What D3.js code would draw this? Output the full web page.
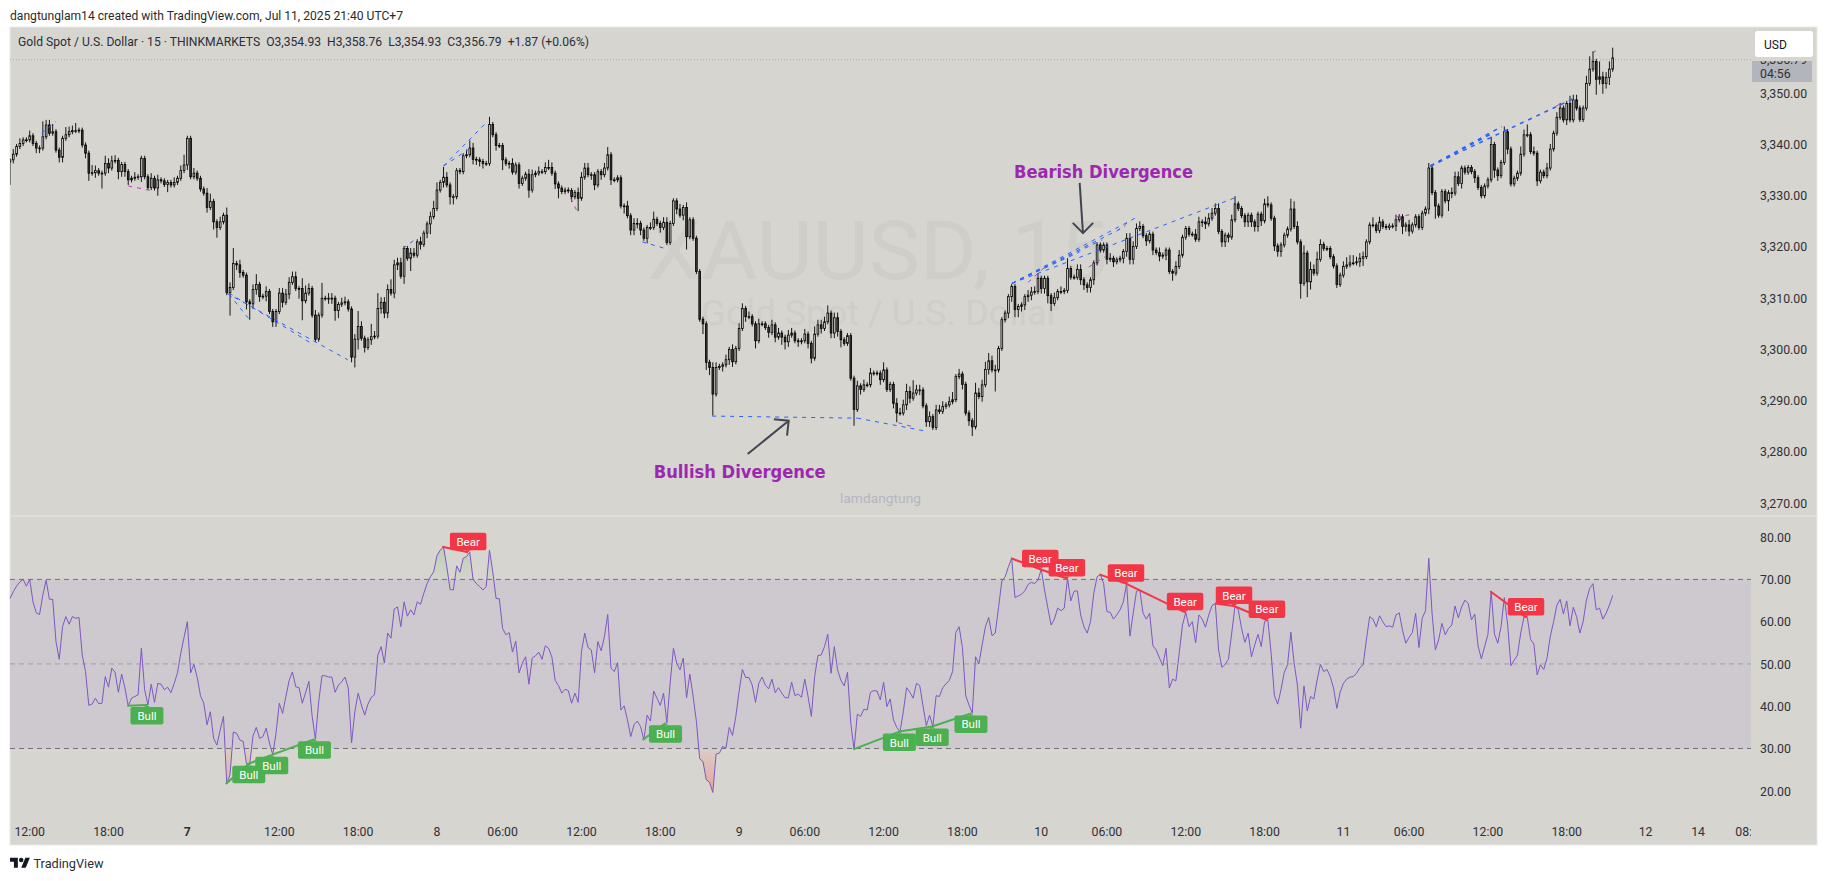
<!DOCTYPE html>
<html><head><meta charset="utf-8">
<script src="https://cdn.jsdelivr.net/npm/d3@7"></script>
<style>html,body{margin:0;background:#fff}svg{display:block}text{font-family:Roboto,sans-serif}</style>
</head><body><svg id="c" width="1827" height="881"></svg>
<script>
const closes=[3336.9,3338,3339.5,3340.1,3340.8,3340.8,3341.6,3340.1,3339.2,3339.2,
3341.4,3343.7,3342.1,3342.4,3338.8,3337.4,3341.1,3341.8,3342.4,3342.6,
3342.6,3342.7,3339.8,3338.2,3334.3,3334.4,3334.8,3334.3,3334.3,3336.2,
3335.3,3336.7,3336.8,3334.6,3336,3334.6,3333,3333.3,3333.5,3333.6,
3337.2,3333.6,3331.5,3333.3,3331.4,3333,3332.8,3332.1,3332.5,3332,
3332.5,3333.3,3334.8,3335.9,3341.1,3333.6,3334.3,3333.3,3331.2,3330.4,
3327.6,3328.8,3324.8,3323.7,3324.8,3326.1,3311,3312,3316.7,3316.4,
3314.9,3314.4,3309.2,3308.8,3311.6,3312.6,3310.2,3310.3,3311.2,3307.3,
3305.3,3307.3,3310.9,3309.1,3310.7,3313,3314.1,3311.8,3311.8,3309.4,
3310.9,3311.8,3306.6,3301.9,3306.6,3309.9,3309.9,3309.8,3309.9,3307.5,
3308.7,3309,3309.2,3307.8,3298.4,3301.9,3304.4,3302.1,3300.3,3301.8,
3302.4,3302.5,3307.9,3309.1,3307,3311.6,3310.9,3316.4,3316.8,3314.2,
3319.6,3317.7,3318.7,3318.3,3320.9,3320.4,3322.6,3324.4,3325.8,3327.4,
3331,3332.5,3333.5,3332,3329.7,3329.7,3334.8,3334.6,3337.7,3337.9,
3339.2,3337,3336.9,3336.6,3336.2,3336.2,3343.8,3341.8,3339.7,3339.7,
3336.9,3336.2,3336.2,3334.5,3335.9,3332.3,3333.3,3334.1,3331,3334,
3334.3,3334.6,3334.6,3335.4,3335.4,3334.3,3332.2,3331.4,3330.7,3331,
3330.9,3329.7,3330.5,3329.4,3333.5,3335.3,3334,3334,3332,3334.6,
3334,3335.3,3337.9,3333,3333,3333.4,3327.9,3327.9,3326,3323.2,
3324.5,3324.5,3323.2,3321.6,3323.7,3323.7,3325.3,3324.5,3323.7,3324.7,
3320.8,3324.5,3328.9,3327.3,3326.1,3327.6,3321.9,3325.2,3321.6,3315.1,
3305.8,3304.9,3297.4,3296.4,3291.2,3296.4,3296.6,3296.9,3297.9,3299.9,
3297.5,3300.1,3304,3307.9,3306.3,3306.3,3304.9,3301.6,3304.9,3304.9,
3304.2,3303.2,3304.7,3302.3,3303.1,3302.3,3301.4,3302.7,3303.1,3301.6,
3301.4,3301.6,3302.9,3301.1,3298.2,3302.9,3304.7,3304,3305.3,3307,
3303.1,3306.1,3303.4,3301.8,3301.1,3302.6,3294.3,3288.2,3292.8,3292.1,
3293,3293,3295.3,3295.3,3295.3,3294,3295.9,3292.1,3293.1,3289.4,
3287.5,3287.5,3289.1,3291.7,3290.4,3291.4,3292,3292,3288.9,3285.8,
3286.8,3284.7,3288.1,3287.8,3288.8,3289.1,3289.7,3290.1,3294.6,3295.1,
3293.1,3287.5,3286,3284.8,3291.4,3290.7,3293,3296,3297.7,3295.9,
3295.9,3300.1,3305.7,3307,3310.2,3312.2,3307.7,3308.3,3308.6,3310.2,
3310.5,3311.1,3311.2,3313.8,3311.8,3313.8,3310.4,3308.9,3310,3311.2,
3311.2,3311.4,3315.7,3314,3314,3315.5,3313.5,3312.5,3312,3313.5,
3316.8,3320.3,3319.3,3320.3,3317.5,3317.7,3317,3317.4,3317.7,3319,
3321.6,3317.5,3320,3323.5,3323.9,3322.1,3321.1,3322.4,3319.3,3318.8,
3318.1,3318.3,3319.3,3315.1,3314.8,3316.1,3318.3,3321.8,3323.5,3322.4,
3322.4,3321.4,3324.8,3324.8,3324.4,3325.5,3326.5,3327.4,3322.9,3320.9,
3322.2,3321.8,3325.2,3328.3,3327.4,3326,3324.8,3326.1,3324.8,3323.9,
3326.3,3325,3328.3,3328.1,3325.5,3320.1,3319,3320.3,3322.2,3323.4,
3327.3,3323.9,3320.9,3312.8,3318.7,3313.1,3315.5,3314.8,3317.5,3320.4,
3319.6,3319.6,3318,3316.2,3312.6,3314.4,3316.1,3316.4,3316.8,3316.8,
3317,3317.7,3318,3320.9,3324.2,3324.2,3323.1,3324.8,3323.9,3323.7,
3324,3324,3325.2,3325.8,3323.9,3324.2,3323,3324.2,3325.8,3323.7,
3326.5,3327.3,3335.3,3330.5,3327.9,3326.1,3330.7,3328.9,3330.5,3330.4,
3333.6,3332.3,3335.3,3334.5,3335.4,3334.6,3333.4,3331.5,3329.9,3331.8,
3333,3339.9,3334.9,3333.8,3336.4,3342.4,3339,3332.2,3333.3,3334.3,
3338,3341.8,3341.8,3338.5,3338.2,3332.8,3334.5,3333.8,3335.3,3339,
3342.1,3345.2,3347,3344.7,3347.9,3344.7,3348.6,3347,3344.8,3347,
3351.8,3354.6,3356.1,3352.6,3353.1,3351.8,3353,3354.6,3356.79];
const wickUp=[.3,1,.5,1,.5,.5,1,.5,.5,.5, 3,1,1,1.5,.5,.5,.5,1.5,1,1, 1.5,.5,.5,.5,.5,1.5,1,.5,.5,1.5,
1,1,1,.5,.5,.5,.5,.5,1,.5, .5,.5,.5,1,.5,1,.5,.5,.5,.5, 1,.5,1,2,.5,.5,1,.5,.5,.5,
1,1.5,.5,.5,1,.5,1.5,1,3,.5, 1,.5,.5,.5,1,2,.5,.5,1,.5, .5,.5,1,1,1,1,1,1,.5,2,
1.5,1,.5,1,.5,3,.5,1,1,.5, .5,1,1,.5,.5,1,3,1,.5,.5, 2.5,1,3,1,1,1,2,1,1,1,
.5,.5,1,1,.5,1,.5,.5,1,1.5, 1.5,.5,2,1,.5,.5,.5,.5,.5,1, 1.5,1,.5,.5,.5,.5,1.5,.5,.5,.5,
.5,.5,.5,1,.5,.5,.5,.5,1,1, .5,1,.5,1,1.5,1,.5,.5,.5,.5, .5,.5,.5,1,1,1,1,.5,.5,.5,
.5,1,1.5,.5,.5,.5,.5,.5,1,.5, 1,1,.5,.5,.5,1,1.5,.5,.5,1, 1,.5,.5,.5,1,.5,1,.5,.5,.5,
.5,.5,.5,.5,1,1,.5,.5,1,.5, 1,.5,1,1,.5,1,.5,.5,1,.5, .5,.5,1,.5,1,.5,.5,1,1,.5,
.5,.5,1,.5,.5,1.5,1,1,1,1.5, .5,1,1,.5,.5,.5,.5,.5,1,.5, 1,.5,1,.5,.5,.5,1.5,.5,.5,.5,
1,1,1,1.5,1,2.5,1,1,.5,.5, 1,.5,1,1,1,.5,1,1.5,.5,1, .5,.5,.5,.5,2,1,1,1.5,1.5,1,
1,.5,.5,.5,.5,.5,.5,.5,.5,.5, 1,1,1,1,.5,.5,.5,.5,1,.5, 1,.5,2,.5,.5,1,1,.5,.5,.5,
.5,.5,.5,.5,.5,1,.5,.5,.5,.5, 1,1,1,1,1,.5,.5,.5,.5,.5, 1,.5,.5,.5,.5,1,1,.5,.5,.5,
.5,1,1,.5,1,1,1,1,1,.5, .5,.5,1,1.5,.5,.5,.5,.5,.5,.5, .5,.5,1,1.5,.5,.5,.5,.5,.5,.5,
2,1.5,1,.5,1.5,.5,1.5,1,1.5,1, .5,.5,.5,.5,.5,.5,1,1.5,1.5,1.5, 1,1,1,.5,.5,1.5,.5,1,.5,.5,
.5,.5,1,.5,.5,.5,1,.5,.5,.5, .5,.5,1,.5,.5,.5,.5,.5,.5,1, 1,1,.5,.5,.5,.5,.5,.5,.5,.5,
.5,1.5,.5,.5,.5,1,.5,.5,.5,.5, 1.5,1,2,.5,1,.5,.5,.5,1,1, .5,1,1,.5,.5,1.5,1,1,.5,.5,
1.5,2.5,2,.5,3,1,1,1.5,2];
const wickDown=[4.5,.7,.5,.5,.5,.5,.5,.5,1,1, .5,.5,.5,.5,.5,1,1,.5,.5,.5, .5,.5,.5,1,1.5,.5,1,.5,3,.5,
1,.5,.5,1.5,1,1,1,.5,.5,.5, 1,.5,.5,.5,.5,1.5,.5,.5,1.5,.5, .5,.5,.5,.5,1,.5,.5,.5,.5,.5,
1,.5,1.5,2,.5,.5,.5,4.5,.5,1, 1,.5,1.5,3.1,1,1,1,.5,1,.5, 1,1,.5,1,.5,1,.5,.5,2,3.8,
.5,.5,.5,.5,.5,.5,.5,1,1,2, 1.5,.5,.5,.5,1,2,2,.5,1,.5, 1,.5,.5,1,1,1,.5,1,1,.5,
1.5,.5,2.5,.5,.5,1,.5,1,2,.5, .5,.5,1,.5,1.5,1.5,.5,.5,.5,.5, .5,1,1,1,1,.5,.5,.5,1,.5,
2,.5,1,.5,.5,1,.5,.5,1.5,.5, .5,.5,.5,.5,.5,.5,1,2,.5,.5, .5,1,.5,2.5,.5,.5,.5,1,1,.5,
1,.5,.5,1,.5,.5,.5,1.5,.5,1, 1,1,1,.5,1,.5,.5,.5,1,.5, .5,.5,.5,1,.5,1,2.5,.5,.5,.5,
.5,2,1.5,1.5,4.2,.5,.5,1,.5,1, 1,.5,.5,.5,1,.5,.5,1.5,.5,.5, .5,1,.5,1,.5,1.5,1.5,1,.5,.5,
1,.5,.5,1,1,.5,.5,1,.5,.5, 1,1,1,1.5,.5,.5,.5,3.2,.5,1, .5,.5,.5,.5,.5,1,.5,.5,.5,1,
1.8,.5,.5,1,1,.5,.5,1,.5,1, 1,.5,.5,.5,.5,.5,.5,.5,.5,.5, 1,.5,1,1.8,.5,.5,1,.5,1,.5,
4.2,.5,.5,.5,1,1,1.5,1.5,1,1, 1,1,.5,.5,1,1,1.5,1.5,.5,.5, .5,.5,.5,.5,.5,.5,1,1,1,1,
1,.5,.5,.5,1,.5,1,.5,.5,1, 1,1,1,.5,.5,.5,1,.5,1,.5, 1,.5,1,.5,1.5,.5,.5,.5,.5,.5,
.5,.5,.5,1,1,.5,.5,.5,.5,1, 1,1,.5,.5,.5,.5,1,1,1,1, 1,1,.5,.5,.5,1,1,1,.5,.5,
.5,.5,.5,3,.5,3,1.5,.5,.5,.5, .5,.5,.5,.5,.7,.5,.5,.5,.5,.5, .5,1,1.5,.5,.5,.5,.5,.5,.5,.5,
.5,.5,1,.5,1.5,1,1,.5,.5,.5, .5,.5,1,.5,2.5,.5,.5,.5,2,1, .5,.5,1,.5,.5,.5,1,.5,.5,.5,
.5,.5,1.5,1,.5,.5,1,.5,.5,.5, .5,.5,.5,.5,.5,1,.5,.5,.5,.5, .5,.5,.5,.5,1,.5,.5,.5,.5,.5,
.5,.5,.5,3,1,2,1,1.5,.5];
const rsi=[65.5,67.1,68.4,69.4,70,68.4,70,64.7,62.1,61.7,66.3,69.8,65.3,65.3,55.3,51.1,58.8,61.2,59.4,61.2,60.8,61,52.1,48.2,40.2,40.5,41.9,40.6,40.7,47,44.5,49,48,43.3,47.6,44.3,40.1,41.9,42.3,42.7,53.7,43.9,40.3,45.2,40.9,45.4,45.2,43.9,44.5,43.2,45.4,47.9,52.5,56.3,60,47.9,49.9,46.8,42.5,40.7,35.6,38.7,32.4,30.8,34.4,37.6,21.6,23.8,33.9,33.6,32,31.7,26.4,26.3,33,35,32.4,32.8,34.8,31.3,28.5,33.6,40.7,38.3,42.3,46.1,48.1,44.6,44.4,40.7,43.2,45.9,37.6,32.2,41.1,47.2,47.2,46.9,46.9,43.3,45,45.8,46.9,44.3,31.3,38.7,43.1,40.3,37.9,40.5,42.1,42.7,52.1,54.1,50.2,57.3,56.1,63,63.5,58.8,64.7,61.3,62.8,61.6,64.7,64.1,66.7,69,70.6,71.8,75.6,76.9,77.7,73,67.6,67.5,73.2,71.7,75,75.4,76.4,70,69,68.3,67.5,68.3,76.9,71.8,65.5,65.4,58.4,56.9,57.4,52.8,55.4,47.9,50.2,51.7,45.2,51.4,51.9,52.8,51.1,54.3,53.7,51.6,46.1,44.9,43.1,44,43.7,40.7,43.1,40.9,52.9,57.3,53.9,53.3,47.9,55.3,53.1,56.5,61.7,
49,48.2,50.3,39.1,40.1,36.8,32.8,35.6,36.5,35.2,32,37.9,36.5,43.6,41.9,40.2,43.1,36,45.4,53.7,50.2,48.6,51.4,42,47.6,42.3,36.4,27.6,26.9,22.6,22,19.6,28.7,28.9,30.5,30.1,35,33.1,37.6,43.5,48.7,46.8,46.8,45,40.9,45.4,46.9,45,44.1,46.4,43.2,44.4,43.1,42,42,45.7,42.5,42.9,42.1,46.4,42.3,37.6,47,52,52.1,54.1,57,47.8,54.1,48.6,46.1,44.8,48,36,29.8,38.1,37.6,39.3,39.1,43.3,43.7,43.6,41.5,45.7,39.9,41.7,36.8,35,34,38.7,44.4,43.3,41.9,45.4,44.9,40.1,35.4,37.9,35.2,42.5,42.3,44.4,45.3,46.1,48.2,57.5,58.8,53.9,42.5,40.3,38.3,51.7,50,54.5,58.8,61,56.7,57.3,63.4,69.6,70.6,73,75,65.7,66.1,66.5,67.3,68.8,69.3,69,69.8,72.4,67.5,63.3,59.2,60.6,63.2,62.6,63.2,70.2,64.9,67.2,67.3,61.6,58.8,57.3,60,66.7,70.6,71.2,69,62.4,62.2,60.6,61.6,62.8,64.7,69,56.6,62,67.2,67.5,62,60.6,62,54.3,53.3,51.4,49.6,53.7,44.3,46.4,46,52.5,59.2,62.2,58.8,60,55,61.6,60.6,58.7,61.6,63.8,64.3,
53.3,49.2,49.9,51.1,57.3,63.7,62.8,58.4,55.1,57.3,51.7,54.5,57,54.1,60,60.4,52.5,42.5,40.5,43.9,48,49.8,57.5,50.2,45,34.8,44.8,38.9,42.3,41.7,46.2,49.9,48.2,48.7,47,44.3,39.5,43.3,45.4,46.4,46.9,47,47.8,49.1,49.8,55.7,61.2,60.6,58.8,61.4,60,58.8,59,58.7,61.6,62.1,58,54.9,56.3,57.4,62,53.9,60.8,62.6,75,62,53.3,55.7,59.6,56.9,58.4,59.2,63.7,60.9,63.5,65.1,64.3,60.4,61.8,54.3,51.2,54.1,56.9,67.2,57.1,54.9,58.8,65.7,59.4,49.6,50.9,52.1,57.3,61.2,61,55.8,54.7,47.4,49.8,48.7,51.4,56.5,60,63.9,65.3,61.8,64.9,59,63.4,61.2,57.3,60,65.1,67.9,69,62.8,63.2,60.6,62,63.9,66.2];
const priceTicks=[3350,3340,3330,3320,3310,3300,3290,3280,3270];
const rsiTicks=[80,70,60,50,40,30,20];
const rsiLevels=[70,50,30];
const timeBars=[6,30,54,82,106,130,150,174,198,222,242,266,290,314,334,358,382,406,426,450,474,498,514,530];
const timeLabels=["12:00","18:00","7","12:00","18:00","8","06:00","12:00","18:00","9","06:00","12:00","18:00","10","06:00","12:00","18:00","11","06:00","12:00","18:00","12","14","08:00"];
// dashed divergence lines on price: [bar1, price1, bar2, price2]
const blueLines=[[9.6,3342.1,14,3344.4],[132,3335.7,144.6,3343.9],[132,3335.7,140,3339.1],[119.6,3319.6,123.2,3321.3],[192.5,3320.9,199.5,3319.6],
[66,3310.9,102.8,3297.9],[66.7,3310.7,72.7,3305.9],[66.7,3310.9,92.5,3300.8],[213.8,3286.9,258,3286.5],[258,3286.5,278.6,3284],
[305.1,3312.8,343.4,3325.8],[305.1,3312.8,373,3329.5],[305.1,3312.8,339.6,3323.9],[305.1,3312.8,332.6,3321.3],[305.1,3312.8,325.6,3318.9],
[481.9,3357.7,483.5,3358.5]];
const blueBoldLines=[[432.5,3335.7,454.2,3343.4],[432.5,3335.7,475.9,3348.8],[432.5,3335.7,450.6,3341.8]];
const purpleLines=[[36,3331.8,43.9,3330.8],[170.7,3329.4,172.5,3327.1],[422.2,3325.8,427.6,3326.3],[470.8,3347.4,473.3,3348.2],[270.5,3285.6,275,3284.8],[328.5,3316,333.5,3318],[337,3323,341,3325],[310,3313,316,3316.5]];
// RSI divergences: [bar1, rsi1, bar2, rsi2]
const bullDivs=[[35.7,40.1,41.7,40.3],[65.7,21.6,72.7,26.4],[72.7,26.4,79.7,28.5],[79.7,28.5,92.7,32.2],[192.6,32,199.6,36],[256.8,29.8,270.8,34],[270.8,34,280.8,35.2],[280.8,35.2,292.6,38.3]];
const bearDivs=[[131.6,77.7,139.5,76.4],[304.8,75,313.7,72.4],[313.7,72.4,321.8,70.2],[331.7,71.2,339.8,69],[339.8,69,357.8,62.2],[366.9,64.3,372.7,63.7],[372.7,63.7,382.7,60.4],[450.7,67.2,461.6,61]];
const legendText="Gold Spot / U.S. Dollar · 15 · THINKMARKETS  O3,354.93  H3,358.76  L3,354.93  C3,356.79  +1.87 (+0.06%)";

const svg=d3.select("#c");
const W={l:10,r:1817,pr:1751,t:27,b:845,sep:516};
const x=d3.scaleLinear().domain([0,closes.length-1]).range([10,1612.7]);
const xr=d3.scaleLinear().domain([0,rsi.length-1]).range([10,1612.7]);
const y=d3.scaleLinear().domain([3270,3350]).range([502.7,92.7]);
const yr=d3.scaleLinear().domain([30,70]).range([748.5,579.4]);
const bg="#d6d5d0",ink="#2f3136";

const defs=svg.append("defs");
defs.append("clipPath").attr("id","plot").append("rect").attr("x",W.l).attr("y",W.t).attr("width",W.pr-W.l).attr("height",W.b-W.t);
defs.append("clipPath").attr("id","ob").append("rect").attr("x",W.l).attr("y",W.sep).attr("width",W.pr-W.l).attr("height",yr(70)-W.sep);
defs.append("clipPath").attr("id","os").append("rect").attr("x",W.l).attr("y",yr(30)).attr("width",W.pr-W.l).attr("height",100);
defs.append("clipPath").attr("id","tag").append("rect").attr("x",1752).attr("y",61).attr("width",60).attr("height",21);
const g1=defs.append("linearGradient").attr("id","gOb").attr("gradientUnits","userSpaceOnUse").attr("x1",0).attr("x2",0).attr("y1",yr(78)).attr("y2",yr(70));
g1.append("stop").attr("offset",0).attr("stop-color","#bccfb6");g1.append("stop").attr("offset",1).attr("stop-color","#bccfb6").attr("stop-opacity",.15);
const g2=defs.append("linearGradient").attr("id","gOs").attr("gradientUnits","userSpaceOnUse").attr("x1",0).attr("x2",0).attr("y1",yr(30)).attr("y2",yr(20));
g2.append("stop").attr("offset",0).attr("stop-color","#e5a79c").attr("stop-opacity",.15);g2.append("stop").attr("offset",1).attr("stop-color","#e5a79c");

svg.append("rect").attr("width",1827).attr("height",881).attr("fill","#fff");
svg.append("text").attr("x",10).attr("y",19.5).attr("font-size",12).attr("fill","#2a2a2a").attr("textLength",393).attr("lengthAdjust","spacingAndGlyphs").text("dangtunglam14 created with TradingView.com, Jul 11, 2025 21:40 UTC+7");
svg.append("rect").attr("x",W.l).attr("y",W.t).attr("width",W.r-W.l).attr("height",W.b-W.t).attr("fill",bg).attr("stroke","#e9e9e6").attr("stroke-width",1);

// watermark
const wm=svg.append("g").attr("clip-path","url(#plot)");
wm.append("text").attr("x",647).attr("y",279).attr("font-size",82).attr("fill","#cfcec9").attr("textLength",461).attr("lengthAdjust","spacingAndGlyphs").text("XAUUSD, 15");
wm.append("text").attr("x",701).attr("y",325).attr("font-size",35).attr("fill","#cfcec9").attr("textLength",358).attr("lengthAdjust","spacingAndGlyphs").text("Gold Spot / U.S. Dollar");
wm.append("text").attr("x",840).attr("y",503).attr("font-size",13).attr("fill","#b4b6c0").attr("textLength",81).attr("lengthAdjust","spacingAndGlyphs").text("lamdangtung");

svg.append("text").attr("x",18).attr("y",46).attr("font-size",12).attr("fill","#2a2e39").attr("xml:space","preserve").style("white-space","pre").attr("textLength",571).attr("lengthAdjust","spacingAndGlyphs").text(legendText);
svg.append("line").attr("x1",W.l).attr("x2",W.pr).attr("y1",59.7).attr("y2",59.7).attr("stroke","#a9a9a5").attr("stroke-dasharray","1 2");
svg.append("line").attr("x1",W.l).attr("x2",W.r).attr("y1",516).attr("y2",516).attr("stroke","#e7e7e4").attr("stroke-width",1.2);

// candles
const bars=closes.map((c,i)=>{const o=i?closes[i-1]:c-.4;return{i,o,c,h:Math.max(o,c)+(wickUp[i]??.5),l:Math.min(o,c)-(wickDown[i]??.5)}});
const cg=svg.append("g").attr("clip-path","url(#plot)");
const px=d=>x(d.i);
cg.selectAll("line").data(bars).join("line").attr("x1",px).attr("x2",px).attr("y1",d=>y(d.h)).attr("y2",d=>y(d.l)).attr("stroke","#000").attr("stroke-width",.9);
cg.selectAll("rect").data(bars).join("rect").attr("x",d=>px(d)-.85).attr("width",1.7)
 .attr("y",d=>y(Math.max(d.o,d.c))).attr("height",d=>Math.max(.8,Math.abs(y(d.o)-y(d.c))))
 .attr("fill",d=>d.c>=d.o?bg:"#3a3a3a").attr("stroke","#000").attr("stroke-width",.8);

// price dashed lines
const dg=svg.append("g").attr("clip-path","url(#plot)").attr("fill","none").attr("stroke-dasharray","4 5");
const segs=(arr,col,w)=>dg.append("g").attr("stroke",col).attr("stroke-width",w).selectAll("line").data(arr).join("line")
 .attr("x1",d=>x(d[0])).attr("y1",d=>y(d[1])).attr("x2",d=>x(d[2])).attr("y2",d=>y(d[3]));
segs(blueLines,"#2962ff",1);segs(blueBoldLines,"#2962ff",1.6);segs(purpleLines,"#b43fc4",1);

// RSI pane
svg.append("rect").attr("x",W.l).attr("width",W.pr-W.l).attr("y",yr(70)).attr("height",yr(30)-yr(70)).attr("fill","#cdc9cf");
rsiLevels.forEach(v=>svg.append("line").attr("x1",W.l).attr("x2",W.pr).attr("y1",yr(v)).attr("y2",yr(v)).attr("stroke",v===50?"#a09fa3":"#6f7078").attr("stroke-dasharray","5 4"));
svg.append("path").datum(rsi).attr("clip-path","url(#ob)").attr("fill","url(#gOb)").attr("d",d3.area().x((d,i)=>xr(i)).y0(yr(70)).y1(d=>yr(d)));
svg.append("path").datum(rsi).attr("clip-path","url(#os)").attr("fill","url(#gOs)").attr("d",d3.area().x((d,i)=>xr(i)).y0(yr(30)).y1(d=>yr(d)));
svg.append("path").datum(rsi).attr("fill","none").attr("stroke","#7e57c2").attr("stroke-width",1).attr("d",d3.line().x((d,i)=>xr(i)).y(d=>yr(d)));

function divs(arr,col,name,below,w){
 const g=svg.append("g");
 g.selectAll("line").data(arr).join("line").attr("x1",d=>xr(d[0])).attr("y1",d=>yr(d[1])).attr("x2",d=>xr(d[2])).attr("y2",d=>yr(d[3])).attr("stroke",col).attr("stroke-width",2);
 const pos=d=>`translate(${xr(d[2])},${yr(d[3])})`;
 g.selectAll("path").data(arr).join("path").attr("transform",pos).attr("d",below?"M-3 2L0 0L3 2Z":"M-3 -2L0 0L3 -2Z").attr("fill",col);
 g.selectAll("rect").data(arr).join("rect").attr("transform",pos).attr("x",-w/2).attr("width",w).attr("height",17.5).attr("y",below?2:-19.5).attr("rx",2).attr("fill",col);
 g.selectAll("text").data(arr).join("text").attr("transform",pos).attr("text-anchor","middle").attr("y",below?15:-6.5).attr("font-size",11.5).attr("fill","#fff").text(name);
}
divs(bullDivs,"#4caf50","Bull",true,33);
divs(bearDivs,"#f23645","Bear",false,36.5);

// annotations
const anno=svg.append("g");
const annoText=[["Bearish Divergence",305.7,3333.3,179],["Bullish Divergence",196,3274.8,172]];
anno.selectAll("text").data(annoText).join("text").attr("x",d=>x(d[1])).attr("y",d=>y(d[2])).attr("font-size",18).attr("font-weight",700).style("font-family","'DejaVu Sans Condensed','DejaVu Sans'").attr("fill","#9c27b0").attr("textLength",d=>d[3]).attr("lengthAdjust","spacingAndGlyphs").text(d=>d[0]);
// arrows: tail bar/price, tip bar/price, head corner 1 bar/price, head corner 2 bar/price
const arrows=[[325.7,3332.4,326.7,3322.6,323.6,3324.6,329.8,3324.6],[224.6,3279.5,237.1,3286,232.6,3286.3,236.6,3283.1]];
anno.selectAll("path").data(arrows).join("path").attr("fill","none").attr("stroke","#434651").attr("stroke-width",2).attr("d",d=>{
 const ax=x(d[0]),ay=y(d[1]),bx=x(d[2]),by=y(d[3]);
 return `M${ax} ${ay}L${bx} ${by}M${x(d[4])} ${y(d[5])}L${bx} ${by}L${x(d[6])} ${y(d[7])}`;});

// axes
const fmtP=d3.format(",.2f"),fmtR=d3.format(".2f");
const styleAxis=s=>{s.select(".domain").remove();s.selectAll("line").remove();s.selectAll("text").attr("font-size",12.3).attr("fill",ink).attr("x",0).attr("dy",".35em").attr("font-family","Roboto");};
svg.append("g").attr("transform","translate(1760,0)").call(d3.axisRight(y).tickValues(priceTicks).tickFormat(fmtP).tickSize(0)).call(styleAxis);
const yrAxis=d3.scaleLinear().domain([20,80]).range([790.7,536.7]);
svg.append("g").attr("transform","translate(1760,0)").call(d3.axisRight(yrAxis).tickValues(rsiTicks).tickFormat(fmtR).tickSize(0)).call(styleAxis);
const t=svg.append("g").attr("clip-path","url(#plot)");
t.selectAll("text").data(timeBars).join("text").attr("x",d=>x(d)).attr("y",836).attr("text-anchor","middle").attr("font-size",12.3).attr("fill",ink).attr("font-weight",(d,i)=>timeLabels[i]==="7"?700:400).text((d,i)=>timeLabels[i]);

// price tag and USD
svg.append("rect").attr("x",1752).attr("y",61).attr("width",60).attr("height",21).attr("fill","#b3b5bd");
svg.append("text").attr("clip-path","url(#tag)").attr("x",1760).attr("y",63.5).attr("font-size",12.3).attr("fill",ink).text("3,356.79");
svg.append("text").attr("x",1760).attr("y",77.5).attr("font-size",12.3).attr("fill",ink).text("04:56");
svg.append("rect").attr("x",1755).attr("y",31).attr("width",58).attr("height",26).attr("rx",3).attr("fill","#fff");
svg.append("text").attr("x",1764).attr("y",49).attr("font-size",12).attr("fill","#131722").text("USD");

// footer logo
const logo=svg.append("g").attr("transform","translate(10,855.5) scale(.56)").attr("fill","#131722");
logo.append("path").attr("d","M14 22H7V11H0V4h14v18zM28 22h-8l7.5-18h8L28 22z");
logo.append("circle").attr("cx",20).attr("cy",8).attr("r",4);
svg.append("text").attr("x",33.5).attr("y",868).attr("font-size",13.5).attr("fill","#2a2e39").attr("textLength",70).attr("lengthAdjust","spacingAndGlyphs").text("TradingView");
</script></body></html>
